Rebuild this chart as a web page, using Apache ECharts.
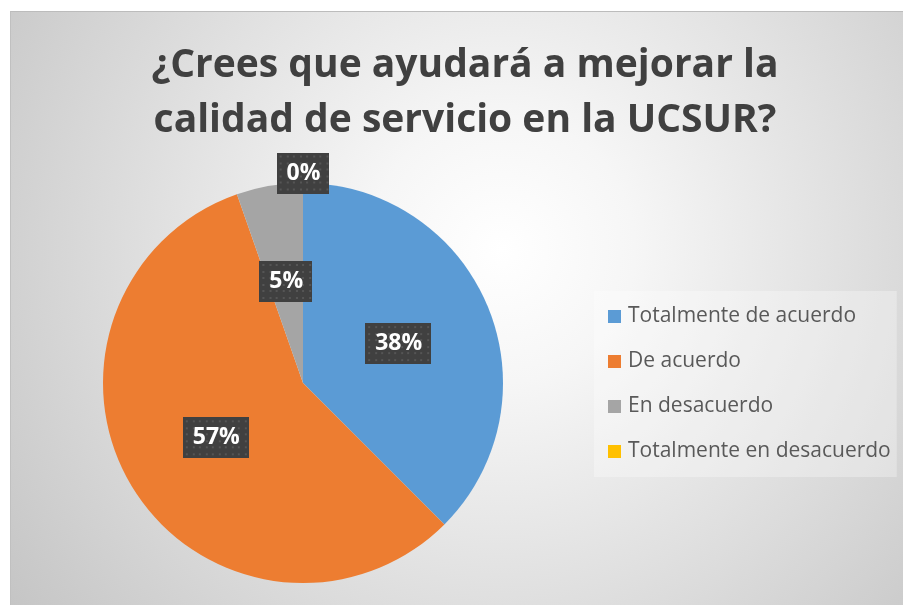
<!DOCTYPE html>
<html>
<head>
<meta charset="utf-8">
<script src="https://cdn.jsdelivr.net/npm/echarts@6/dist/echarts.min.js"></script>
<style>
  html, body { margin: 0; padding: 0; background: #fff; }
  #chart {
    position: absolute; left: 10px; top: 11px; width: 893px; height: 594px;
    border-top: 1px solid #bcbcbc; border-left: 1px solid #c0c0c0;
    box-sizing: border-box;
    background: radial-gradient(circle farthest-corner at 55% 40%, #ffffff 0%, #f6f6f6 22%, #c5c5c5 100%);
  }
</style>
</head>
<body>
<div id="chart"></div>
<script>
const titleLines = ['¿Crees que ayudará a mejorar la', 'calidad de servicio en la UCSUR?'];
const categories = ['Totalmente de acuerdo', 'De acuerdo', 'En desacuerdo', 'Totalmente en desacuerdo'];
const counts = [21, 32, 3, 0];
const colors = ['#5B9BD5', '#ED7D31', '#A5A5A5', '#FFC000'];

// dotted dark texture used behind the data labels
function makePattern(w, h) {
  const c = document.createElement('canvas');
  c.width = w; c.height = h;
  const g = c.getContext('2d');
  g.fillStyle = '#404040';
  g.fillRect(0, 0, w, h);
  g.fillStyle = '#555555';
  for (let y = 3; y < h; y += 6.5) {
    for (let x = 3; x < w; x += 6.5) {
      g.fillRect(Math.round(x), Math.round(y), 2, 2);
    }
  }
  return c;
}

const chart = echarts.init(document.getElementById('chart'));

const labelBox = (w) => ({
  show: true,
  formatter: '{d}%',
  color: '#fff',
  fontFamily: 'Open Sans',
  fontWeight: 'bold',
  fontSize: 23,
  lineHeight: 24,
  padding: [9, 9, 8, 10],
  backgroundColor: { image: makePattern(w, 41) },
  shadowColor: 'rgba(0,0,0,0.45)',
  shadowBlur: 6,
  shadowOffsetX: 4,
  shadowOffsetY: 4
});

const option = {
  animation: false,
  color: colors,
  title: {
    text: titleLines.join('\n'),
    left: 449,
    textAlign: 'center',
    top: 21,
    textStyle: {
      fontFamily: 'Open Sans',
      fontWeight: 'bold',
      fontSize: 39,
      lineHeight: 55,
      color: '#404040'
    }
  },
  legend: {
    orient: 'vertical',
    left: 583,
    top: 279,
    padding: [15, 6, 15, 14],
    backgroundColor: 'rgba(255,255,255,0.3)',
    itemWidth: 13,
    itemHeight: 13,
    itemGap: 24,
    icon: 'rect',
    textStyle: {
      fontFamily: 'Open Sans',
      fontSize: 21,
      color: '#595959',
      padding: [0, 0, 0, 2]
    },
    data: categories
  },
  series: [{
    type: 'pie',
    center: [292, 371],
    radius: 200,
    startAngle: 90,
    clockwise: true,
    percentPrecision: 0,
    avoidLabelOverlap: false,
    labelLine: { show: false },
    label: Object.assign({ position: 'inside' }, labelBox(66)),
    emphasis: { disabled: true },
    data: categories.map((name, i) => {
      const item = { name, value: counts[i] };
      if (counts[i] === 0) {
        item.label = Object.assign({ position: 'inside', offset: [0, -107] }, labelBox(52));
      } else if (counts[i] < 10) {
        item.label = Object.assign({ position: 'inside' }, labelBox(52));
      }
      return item;
    })
  }]
};

chart.setOption(option);
</script>
</body>
</html>
